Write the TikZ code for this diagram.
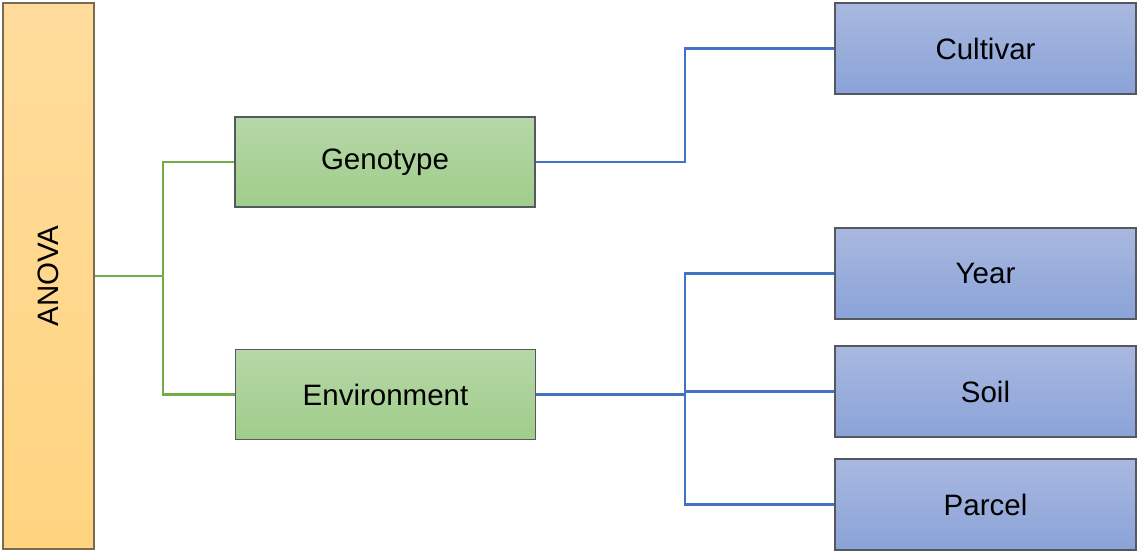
\documentclass[tikz,border=0pt]{standalone}
\usepackage{fontspec}
\setmainfont{Liberation Sans}
\definecolor{anovaTop}{HTML}{FFDC9C}
\definecolor{anovaBot}{HTML}{FFD480}
\definecolor{anovaLine}{HTML}{7A6A50}
\definecolor{greenTop}{HTML}{B6D7A8}
\definecolor{greenBot}{HTML}{A0CD8A}
\definecolor{blueTop}{HTML}{A9B8E0}
\definecolor{blueBot}{HTML}{8AA3D8}
\definecolor{boxLine}{HTML}{55585E}
\definecolor{linkGreen}{HTML}{70AD47}
\definecolor{linkBlue}{HTML}{4472C4}
\begin{document}
\begin{tikzpicture}[x=1pt,y=-1pt,
  every node/.style={font=\fontsize{29.5}{34}\selectfont, inner sep=0pt},
  anovabox/.style={draw=anovaLine, line width=1.2pt, top color=anovaTop, bottom color=anovaBot, minimum width=91pt, minimum height=546pt},
  greenbox/.style={draw=boxLine, line width=1.2pt, top color=greenTop, bottom color=greenBot, minimum width=300pt, minimum height=90pt},
  bluebox/.style={draw=boxLine, line width=1.2pt, top color=blueTop, bottom color=blueBot, minimum width=301pt, minimum height=91pt},
  glink/.style={draw=linkGreen, line width=2.4pt},
  blink/.style={draw=linkBlue, line width=2.8pt}]
\useasboundingbox (0,0) rectangle (1137,551);
\node[anovabox] (anova) at (48.5,276) {};
\node[rotate=90] (anovat) at (anova.center) {ANOVA};
\node[greenbox] (geno) at (385,162) {Genotype};
\node[greenbox] (env) at (385.5,394.5) {Environment};
\node[bluebox] (cult) at (985.5,48.5) {Cultivar};
\node[bluebox] (year) at (985.5,273.5) {Year};
\node[bluebox] (soil) at (985.5,391.5) {Soil};
\node[bluebox] (parcel) at (985.5,504.5) {Parcel};
\coordinate (gj) at (163,276);
\coordinate (bj1) at (685,162);
\coordinate (bj2) at (685,394.5);
\draw[glink] (anova.east) -- (gj) |- (geno.west);
\draw[glink] (gj) |- (env.west);
\draw[blink] (geno.east) -- (bj1) |- (cult.west);
\draw[blink] (env.east) -- (bj2) |- (year.west);
\draw[blink] (bj2 |- soil.west) -- (soil.west);
\draw[blink] (bj2) |- (parcel.west);
\end{tikzpicture}
\end{document}
